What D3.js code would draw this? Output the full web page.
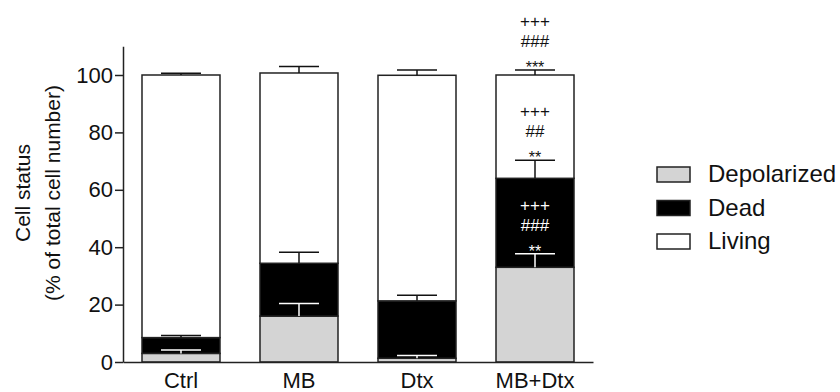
<!DOCTYPE html>
<html>
<head>
<meta charset="utf-8">
<script src="https://cdn.jsdelivr.net/npm/d3@7"></script>
<style>
  body { margin: 0; background: #fff; }
  text { font-family: "Liberation Sans", Arial, sans-serif; }
</style>
</head>
<body>
<script>
const width = 840;
const height = 392;

const categories = ["Ctrl", "MB", "Dtx", "MB+Dtx"];
const seriesNames = ["Depolarized", "Dead", "Living"];
const seriesColors = ["#d4d4d4", "#000000", "#ffffff"];

// segment heights (% of total), stacked bottom to top
const depolarized = [3.0, 16.0, 1.3, 33.0];
const dead = [5.5, 18.4, 20.0, 31.0];
const living = [91.5, 66.3, 78.6, 36.0];

// error bars (upward, SEM)
const depolarizedErr = [1.2, 4.4, 1.0, 4.7];
const deadErr = [0.7, 3.8, 2.0, 6.3];
const livingErr = [0.6, 2.3, 1.8, 1.7];

const yTicks = [0, 20, 40, 60, 80, 100];

// significance marks, bottom line first
const marks = [
  { category: "MB+Dtx", series: 0, lines: ["**", "###", "+++"] },
  { category: "MB+Dtx", series: 1, lines: ["**", "##", "+++"] },
  { category: "MB+Dtx", series: 2, lines: ["***", "###", "+++"] },
];

const values = [depolarized, dead, living];
const errors = [depolarizedErr, deadErr, livingErr];

const svg = d3
  .select("body")
  .append("svg")
  .attr("width", width)
  .attr("height", height);

const x = d3
  .scaleBand()
  .domain(categories)
  .range([123, 593])
  .paddingInner(0.339)
  .paddingOuter(0.161);

const y = d3.scaleLinear().domain([0, 110]).range([362, 46.3]);

// stacked segments
const rows = categories.map((c, i) => {
  const row = { category: c };
  seriesNames.forEach((s, k) => (row[s] = values[k][i]));
  return row;
});
const stacked = d3.stack().keys(seriesNames)(rows);

stacked.forEach((layer, k) => {
  svg
    .append("g")
    .selectAll("rect")
    .data(layer)
    .join("rect")
    .attr("x", (d) => x(d.data.category))
    .attr("y", (d) => y(d[1]))
    .attr("width", x.bandwidth())
    .attr("height", (d) => y(d[0]) - y(d[1]))
    .attr("fill", seriesColors[k])
    .attr("stroke", "#222")
    .attr("stroke-width", 1.5);
});

// error bars, white where they sit inside the black segment
stacked.forEach((layer, k) => {
  const col = k === 0 ? "#fff" : "#111";
  const g = svg.append("g").attr("stroke", col).attr("stroke-width", 1.5);
  layer.forEach((d, i) => {
    const cx = x(d.data.category) + x.bandwidth() / 2;
    const top = d[1] + errors[k][i];
    g.append("line")
      .attr("x1", cx)
      .attr("x2", cx)
      .attr("y1", y(d[1]))
      .attr("y2", y(top));
    g.append("line")
      .attr("x1", cx - 20)
      .attr("x2", cx + 20)
      .attr("y1", y(top))
      .attr("y2", y(top));
  });
});

// significance text (above the depolarized cap it sits in the black segment)
marks.forEach((m) => {
  const i = categories.indexOf(m.category);
  const top = stacked[m.series][i][1] + errors[m.series][i];
  const cx = x(m.category) + x.bandwidth() / 2;
  const col = m.series === 0 ? "#fff" : "#111";
  m.lines.forEach((t, j) => {
    const isStar = t[0] === "*";
    svg
      .append("text")
      .attr("x", cx)
      .attr("y", y(top) - 9 - j * 20)
      .attr("dy", isStar ? "0.75em" : "0.35em")
      .attr("text-anchor", "middle")
      .attr("font-size", isStar ? 16 : 17)
      .attr("fill", col)
      .text(t);
  });
});

// axes
const yAxis = svg
  .append("g")
  .attr("transform", "translate(123,0)")
  .call(d3.axisLeft(y).tickValues(yTicks).tickSize(8).tickSizeOuter(0));
yAxis.select(".domain").attr("stroke", "#222").attr("stroke-width", 1.5);
yAxis.selectAll(".tick line").attr("stroke", "#222").attr("stroke-width", 1.5);
yAxis
  .selectAll(".tick text")
  .attr("font-size", 22)
  .attr("font-family", "Liberation Sans, Arial, sans-serif")
  .attr("fill", "#111")
  .attr("x", -10);

const xAxis = svg
  .append("g")
  .attr("transform", "translate(0,362)")
  .call(d3.axisBottom(x).tickSize(0).tickSizeOuter(0));
xAxis.select(".domain").attr("stroke", "#222").attr("stroke-width", 1.5);
xAxis
  .selectAll(".tick text")
  .attr("font-size", 22)
  .attr("font-family", "Liberation Sans, Arial, sans-serif")
  .attr("fill", "#111")
  .attr("y", 10);

// y title
const title = svg
  .append("text")
  .attr("transform", "translate(0,193) rotate(-90)")
  .attr("text-anchor", "middle")
  .attr("font-size", 21)
  .attr("fill", "#111");
title.append("tspan").attr("x", 0).attr("y", 30).text("Cell status");
title.append("tspan").attr("x", 0).attr("y", 60).text("(% of total cell number)");

// legend
const legend = svg
  .append("g")
  .selectAll("g")
  .data(seriesNames)
  .join("g")
  .attr("transform", (d, i) => `translate(657,${167 + i * 33.5})`);
legend
  .append("rect")
  .attr("width", 33)
  .attr("height", 15)
  .attr("fill", (d, i) => seriesColors[i])
  .attr("stroke", "#222")
  .attr("stroke-width", 1.5);
legend
  .append("text")
  .attr("x", 51)
  .attr("y", 15)
  .attr("font-size", 24)
  .attr("fill", "#111")
  .text((d) => d);
</script>
</body>
</html>
